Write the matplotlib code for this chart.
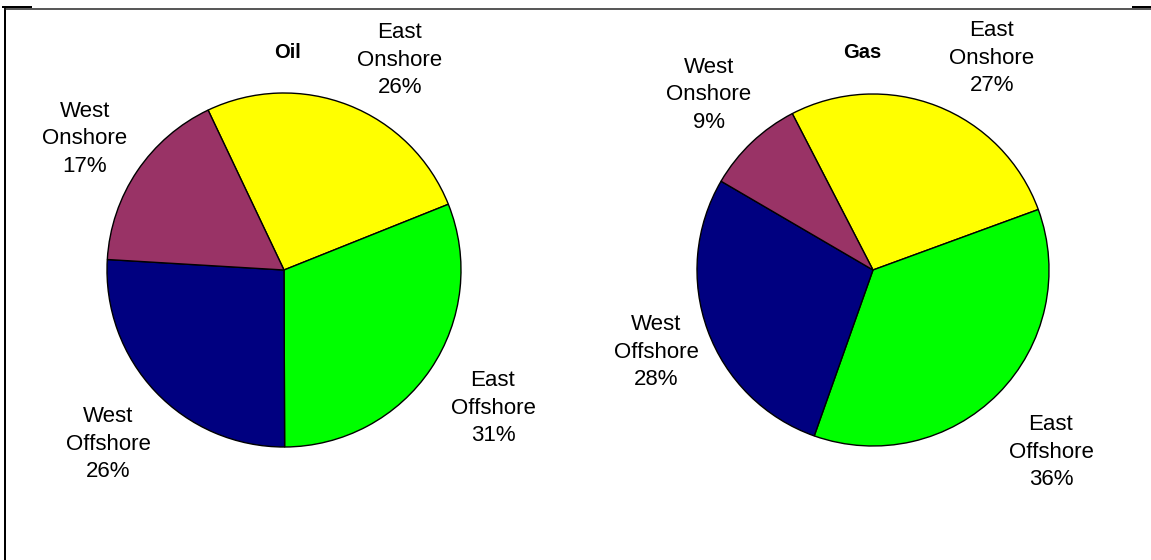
import matplotlib.pyplot as plt
from matplotlib.lines import Line2D

plt.rcParams['font.family'] = ['Liberation Sans', 'DejaVu Sans']

regions = ['East\nOnshore', 'East\nOffshore', 'West\nOffshore', 'West\nOnshore']
oil_share = [26, 31, 26, 17]
gas_share = [27, 36, 28, 9]
colors = ['#ffff00', '#00ff00', '#000080', '#993366']

W, H = 1151, 560
fig = plt.figure(figsize=(W / 100, H / 100), dpi=100)
ax = fig.add_axes([0, 0, 1, 1])

def draw_pie(vals, cx, cy, r, start, title, tx, label_pos):
    ax.pie(vals, colors=colors, startangle=start, counterclock=False,
           center=(cx, H - cy), radius=r, frame=True,
           wedgeprops=dict(edgecolor='black', linewidth=1.0))
    ax.text(tx, H - 52, title, ha='center', va='center',
            fontsize=14.5, fontweight='bold')
    for name, v, (lx, ly) in zip(regions, vals, label_pos):
        ax.text(lx, H - ly, '%s\n%d%%' % (name, v), ha='center', va='center',
                fontsize=16, linespacing=1.42)

draw_pie(oil_share, 284, 270, 177, 115.4, 'Oil', 288,
         [(400, 60), (493, 408), (108, 444), (85, 139)])
draw_pie(gas_share, 873, 270, 176, 117.3, 'Gas', 862,
         [(992, 58), (1051, 452), (656, 352), (709, 95)])

ax.set_xlim(0, W)
ax.set_ylim(0, H)
ax.set_aspect('auto')
ax.axis('off')

# frame edges of the chart area
lines = [
    ([5, 5], [H - 8, 0], 2.0, 'black'),
    ([5, W], [H - 8.5, H - 8.5], 1.5, '#222222'),
    ([3, 31], [H - 6.5, H - 6.5], 2.0, 'black'),
    ([1133, W], [H - 6.5, H - 6.5], 2.0, 'black'),
]
for xs, ys, lw, c in lines:
    fig.add_artist(Line2D([x / W for x in xs], [y / H for y in ys],
                          lw=lw * 0.72, color=c))

fig.savefig('out.png', dpi=100)
